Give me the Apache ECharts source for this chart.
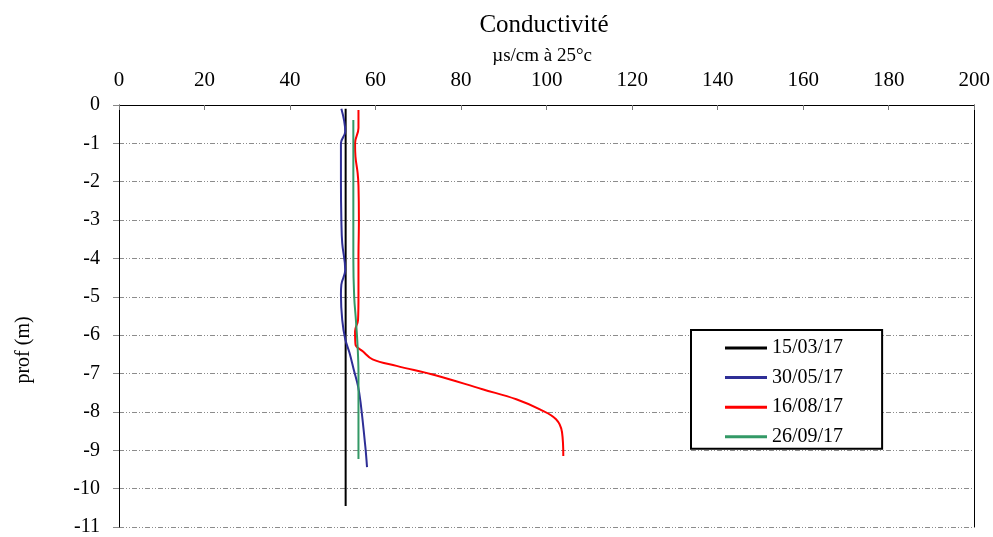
<!DOCTYPE html>
<html>
<head>
<meta charset="utf-8">
<script src="https://cdn.jsdelivr.net/npm/echarts@6/dist/echarts.min.js"></script>
<style>
html,body{margin:0;padding:0;background:#fff;}
#chart{width:993px;height:537px;}
</style>
</head>
<body>
<div id="chart"></div>
<script>
// Conductivity profiles (µs/cm at 25 °C) against depth (m)
const seriesNames = ['15/03/17', '30/05/17', '16/08/17', '26/09/17'];

const depth1 = [-0.1, -1, -2, -3, -4, -5, -6, -7, -8, -9, -10, -10.45];
const cond1  = [53, 53, 53, 53, 53, 53, 53, 53, 53, 53, 53, 53];

const depth2 = [-0.1, -0.69, -1.0, -1.5, -2.0, -3.0, -3.6, -4.3, -4.68, -4.94, -5.6, -6.1, -6.46, -6.9, -7.33, -7.76, -8.9, -9.44];
const cond2  = [52.0, 52.9, 51.9, 51.9, 51.9, 52.0, 52.2, 52.9, 52.0, 51.9, 52.2, 52.9, 53.9, 54.9, 55.9, 56.5, 57.6, 58.0];

const depth3 = [-0.13, -0.6, -1.0, -1.35, -1.77, -2.1, -3, -4, -5, -5.6, -5.9, -6.24, -6.42, -6.63, -6.8, -7.05, -7.41, -7.67, -7.93, -8.19, -8.53, -9.15];
const cond3  = [56.0, 56.0, 55.2, 55.3, 55.8, 56.0, 56.1, 56.0, 56.0, 55.9, 55.2, 55.3, 57.0, 59.3, 64.9, 74.2, 85.0, 92.9, 98.3, 102.2, 103.6, 103.9];

const depth4 = [-0.39, -1, -2, -3, -4, -5, -5.6, -6.3, -7, -8, -9.23];
const cond4  = [54.8, 54.8, 54.8, 54.8, 54.8, 55.0, 55.4, 55.8, 56.0, 56.0, 56.0];

const xTicks = [0, 20, 40, 60, 80, 100, 120, 140, 160, 180, 200];
const yTicks = [0, -1, -2, -3, -4, -5, -6, -7, -8, -9, -10, -11];

const colors = ['#000000', '#2e2e96', '#ff0000', '#339966'];
const font = 'Liberation Serif, Times New Roman, serif';

function pairs(cond, depth) {
  return cond.map((c, i) => [c, depth[i]]);
}
const profiles = [
  pairs(cond1, depth1),
  pairs(cond2, depth2),
  pairs(cond3, depth3),
  pairs(cond4, depth4)
];

const chart = echarts.init(document.getElementById('chart'));
chart.setOption({
  animation: false,
  backgroundColor: '#ffffff',
  title: {
    text: 'Conductivité',
    left: 539, top: 8, textAlign: 'center',
    textStyle: { fontFamily: font, fontWeight: 'normal', fontSize: 25, color: '#000' }
  },
  graphic: [{
    type: 'text',
    x: 24, y: 350,
    rotation: Math.PI / 2,
    style: {
      text: 'prof (m)',
      font: '20px ' + font,
      fill: '#000',
      align: 'center',
      verticalAlign: 'middle'
    }
  }],
  legend: {
    orient: 'vertical',
    left: 691, top: 330,
    data: seriesNames,
    backgroundColor: '#fff',
    borderColor: '#000', borderWidth: 2,
    padding: [8, 39, 2, 34],
    icon: 'rect',
    itemWidth: 42, itemHeight: 3, itemGap: 9.6,
    textStyle: { fontFamily: font, fontSize: 20, color: '#000', lineHeight: 20 }
  },
  grid: { left: 119, top: 105, right: 17, bottom: 9 },
  xAxis: {
    type: 'value', position: 'top',
    min: xTicks[0], max: xTicks[xTicks.length - 1], interval: 20,
    name: 'µs/cm à 25°c', nameLocation: 'middle', nameGap: 35,
    nameTextStyle: { fontFamily: font, fontSize: 19, color: '#000', padding: [0, 9, 0, 0] },
    axisLine: { show: true, lineStyle: { color: '#000', width: 1 } },
    axisTick: { show: true, inside: true, length: 5, lineStyle: { color: '#777' } },
    axisLabel: { fontFamily: font, fontSize: 21, color: '#000', margin: 14 },
    splitLine: { show: false }
  },
  yAxis: [{
    type: 'value',
    min: yTicks[yTicks.length - 1], max: yTicks[0], interval: 1,
    axisLine: { show: true, onZero: false, lineStyle: { color: '#000', width: 1 } },
    axisTick: { show: true, inside: false, length: 6, lineStyle: { color: '#888' } },
    axisLabel: { fontFamily: font, fontSize: 20, color: '#000', margin: 19 },
    splitLine: { show: true, lineStyle: { color: '#8c8c8c', width: 1, type: [5, 2, 1, 2, 1, 2] } }
  }, {
    type: 'value', position: 'right',
    min: yTicks[yTicks.length - 1], max: yTicks[0], interval: 1,
    axisLine: { show: true, onZero: false, lineStyle: { color: '#000', width: 1 } },
    axisTick: { show: false },
    axisLabel: { show: false },
    splitLine: { show: false }
  }],
  series: profiles.map((d, i) => ({
    name: seriesNames[i],
    type: 'line',
    data: d,
    yAxisIndex: 0,
    smooth: 0.4,
    symbol: 'none',
    lineStyle: { color: colors[i], width: 2 },
    itemStyle: { color: colors[i] }
  }))
});
</script>
</body>
</html>
